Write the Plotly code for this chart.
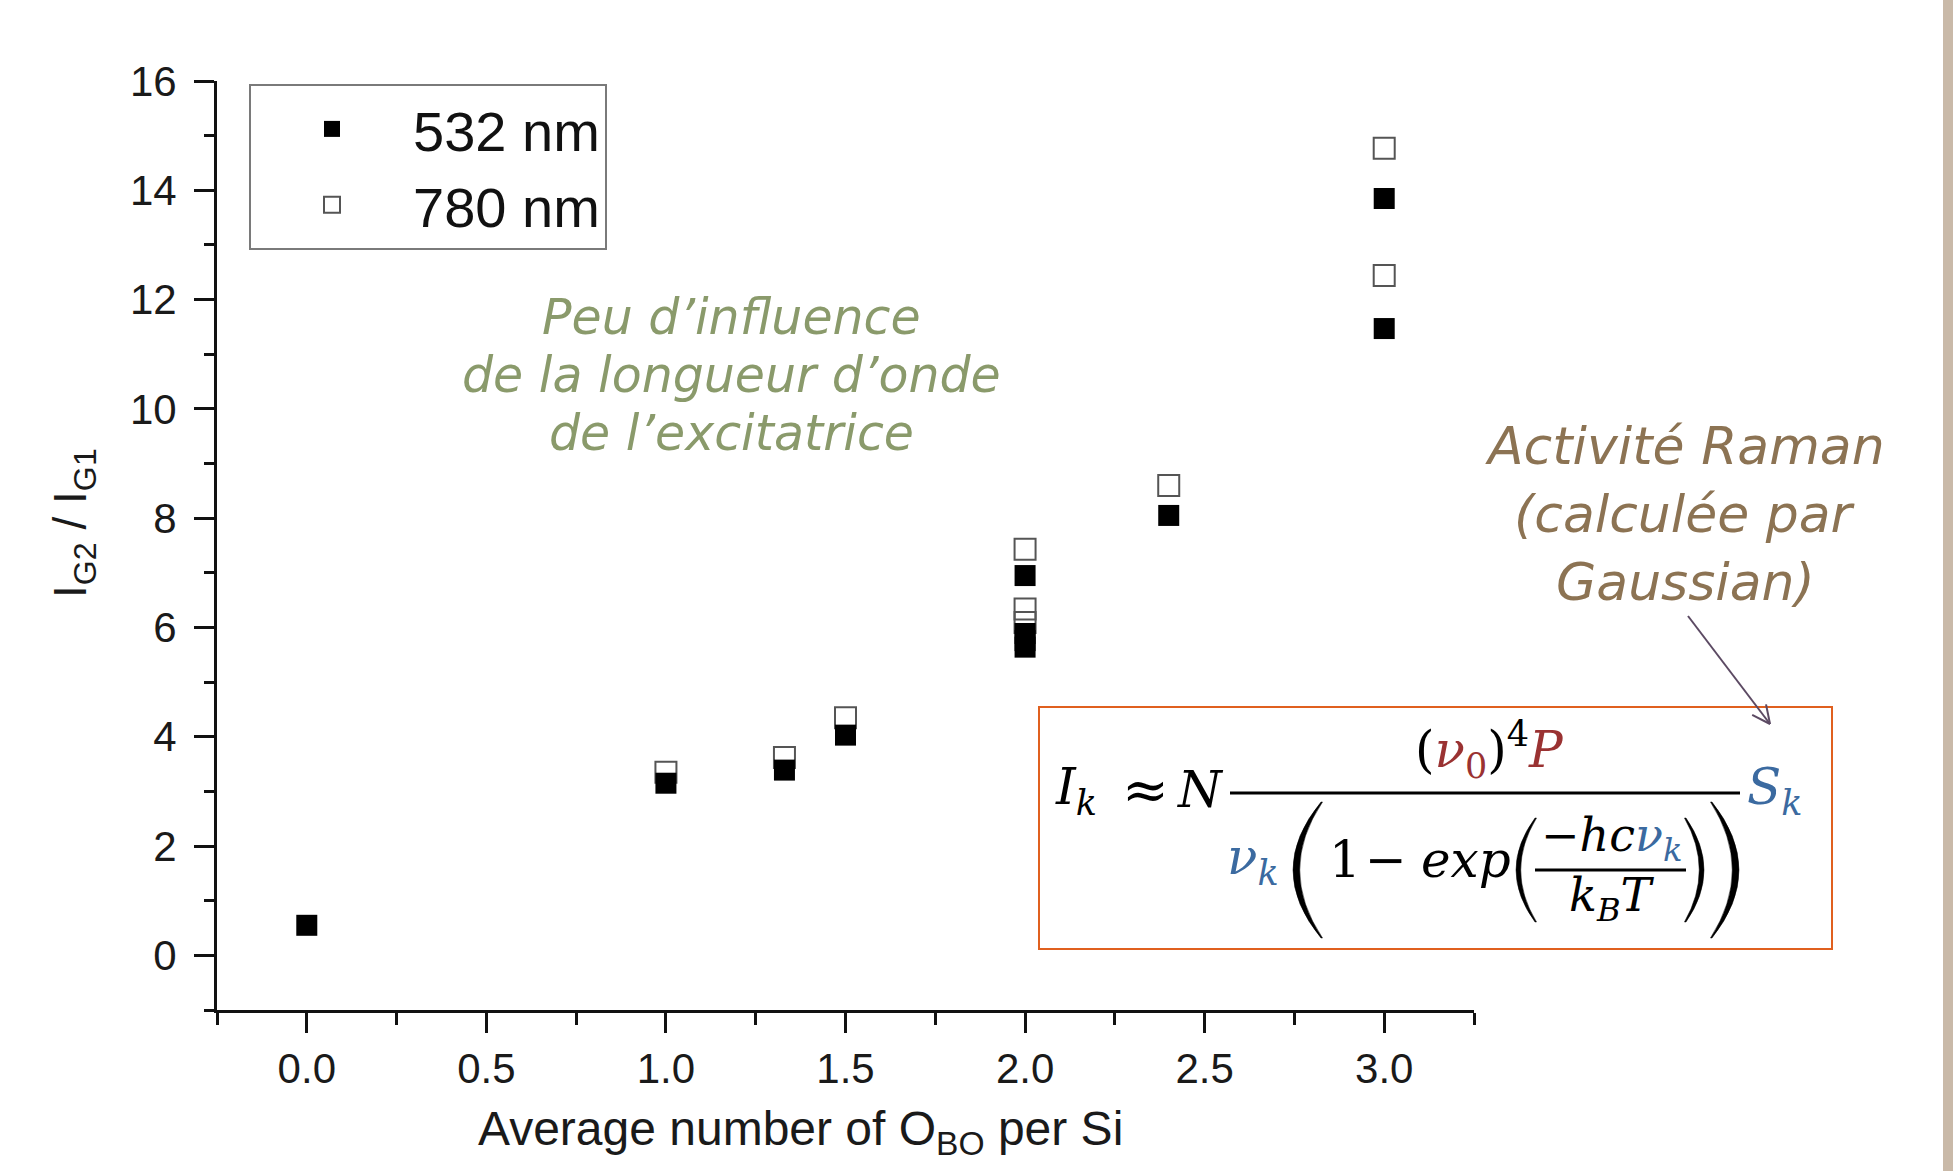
import math
import plotly.graph_objects as go

# ---- data: I_G2 / I_G1 ratio vs. average number of bridging O per Si ----
x_532 = [0.0, 1.0, 1.33, 1.5, 2.0, 2.0, 2.0, 2.0, 2.4, 3.0, 3.0]
y_532 = [0.55, 3.15, 3.39, 4.03, 6.95, 5.89, 5.76, 5.64, 8.05, 13.85, 11.47]

x_780 = [1.0, 1.33, 1.5, 2.0, 2.0, 2.0, 2.4, 3.0, 3.0]
y_780 = [3.35, 3.62, 4.35, 7.43, 6.34, 6.09, 8.60, 14.77, 12.44]

x_ticks = [0.0, 0.5, 1.0, 1.5, 2.0, 2.5, 3.0]
y_ticks = [0, 2, 4, 6, 8, 10, 12, 14, 16]

# ---- page geometry (pixels) ----
W, H = 1953, 1171
ML, MR, MT, MB = 217, 479, 81, 161
PW = W - ML - MR
PH = H - MT - MB


def px(x):
    return (x - ML) / PW


def py(y):
    return 1 - (y - MT) / PH


def pt(x, y):
    return f"{px(x):.5f},{py(y):.5f}"


AXIS_FONT = "Liberation Sans"
MATH_FONT = "DejaVu Serif"
NOTE_FONT = "DejaVu Sans"
BLUE = "#3b6aa0"
RED = "#9a3232"
OLIVE = "#8a9a6b"
BROWN = "#8c7353"

fig = go.Figure()

fig.add_trace(go.Scatter(
    x=x_780, y=y_780, mode="markers", name="780 nm", legendrank=2,
    marker=dict(symbol="square-open", size=21, color="#555555",
                line=dict(width=2, color="#555555")),
))
fig.add_trace(go.Scatter(
    x=x_532, y=y_532, mode="markers", name="532 nm", legendrank=1,
    marker=dict(symbol="square", size=21, color="#000000",
                line=dict(width=0)),
))

axis_common = dict(
    showline=True, linecolor="#111111", linewidth=3, mirror=False,
    showgrid=False, zeroline=False,
    ticks="outside", ticklen=20, tickwidth=3, tickcolor="#111111",
    tickfont=dict(family=AXIS_FONT, size=42, color="#1a1a1a"),
)

fig.update_xaxes(
    range=[-0.25, 3.25], tickvals=x_ticks,
    ticktext=[f"{v:.1f}" for v in x_ticks],
    minor=dict(dtick=0.25, tick0=-0.25, ticks="outside", ticklen=12,
               tickwidth=3, tickcolor="#111111"),
    **axis_common,
)
fig.update_yaxes(
    range=[-1, 16], tickvals=y_ticks, ticklabelstandoff=9,
    minor=dict(dtick=1, tick0=-1, ticks="outside", ticklen=10,
               tickwidth=3, tickcolor="#111111"),
    **axis_common,
)


def note(text, x, y, size, color, family, xanchor="center", yanchor="middle",
         style="normal", angle=0, align="center"):
    fig.add_annotation(
        text=text, x=px(x), y=py(y), xref="paper", yref="paper",
        showarrow=False, xanchor=xanchor, yanchor=yanchor, align=align,
        textangle=angle, borderpad=0,
        font=dict(family=family, size=size, color=color, style=style),
    )


# axis titles
note("Average number of O<sub>BO</sub> per Si", 800, 1132, 48, "#1a1a1a", AXIS_FONT)
note("I<sub>G2</sub> / I<sub>G1</sub>", 73, 523, 46, "#1a1a1a", AXIS_FONT, angle=-90)

# commentary, one annotation per line
for line, yc in zip(["Peu d’influence", "de la longueur d’onde", "de l’excitatrice"],
                    [317, 375, 433]):
    note(line, 731, yc, 49, OLIVE, NOTE_FONT, style="italic")
for line, yc in zip(["Activité Raman", "(calculée par", "Gaussian)"],
                    [446, 514, 582]):
    note(line, 1685, yc, 52, BROWN, NOTE_FONT, style="italic")

shapes = []

# arrow from the comment to S_k
ax0, ay0, ax1, ay1 = 1688, 616, 1770, 724
shapes.append(dict(type="line", xref="paper", yref="paper",
                   x0=px(ax0), y0=py(ay0), x1=px(ax1), y1=py(ay1),
                   line=dict(color="#5c4a63", width=2)))
ang = math.atan2(ay1 - ay0, ax1 - ax0)
for da in (0.45, -0.45):
    hx = ax1 - 20 * math.cos(ang + da)
    hy = ay1 - 20 * math.sin(ang + da)
    shapes.append(dict(type="line", xref="paper", yref="paper",
                       x0=px(hx), y0=py(hy), x1=px(ax1), y1=py(ay1),
                       line=dict(color="#5c4a63", width=2)))

# formula frame
shapes.append(dict(type="rect", xref="paper", yref="paper",
                   x0=px(1039), y0=py(949), x1=px(1832), y1=py(707),
                   line=dict(color="#e0601f", width=2), fillcolor="white",
                   layer="below"))

# right-hand page strip
shapes.append(dict(type="rect", xref="paper", yref="paper",
                   x0=px(1943), y0=py(H), x1=px(W + 5), y1=py(0),
                   line=dict(width=0), fillcolor="#c9b9a8", layer="below"))


def hline(x0, x1, y, width=3):
    shapes.append(dict(type="line", xref="paper", yref="paper",
                       x0=px(x0), y0=py(y), x1=px(x1), y1=py(y),
                       line=dict(color="black", width=width)))


def paren(xl, xr, yt, yb, w, opening):
    ym = (yt + yb) / 2
    if opening:
        path = (f"M{pt(xr, yt)} Q{pt(2 * xl - xr, ym)} {pt(xr, yb)} "
                f"L{pt(xr + 1.5, yb)} Q{pt(2 * (xl + w) - xr, ym)} {pt(xr + 1.5, yt)} Z")
    else:
        path = (f"M{pt(xl, yt)} Q{pt(2 * xr - xl, ym)} {pt(xl, yb)} "
                f"L{pt(xl - 1.5, yb)} Q{pt(2 * (xr - w) - xl, ym)} {pt(xl - 1.5, yt)} Z")
    shapes.append(dict(type="path", xref="paper", yref="paper", path=path,
                       fillcolor="black", line=dict(width=0.5, color="black")))


# I_k ≈ N  (ν0)^4 P / ( ν_k (1 − exp(−hcν_k / k_B T)) )  S_k
F = 50
note("<i>I</i><sub><i>k</i></sub>", 1054, 790, F, "black", MATH_FONT, xanchor="left")
note("≈", 1145, 789, 56, "black", MATH_FONT)
note("<i>N</i>", 1176, 790, F, "black", MATH_FONT, xanchor="left")
hline(1230, 1740, 793)
note(f"(<span style='color:{RED}'><i>ν</i><sub>0</sub></span>)<sup>4</sup>"
     f"<span style='color:{RED}'><i>P</i></span>",
     1489, 750, F, "black", MATH_FONT)
note("<i>ν</i><sub><i>k</i></sub>", 1226, 860, F, BLUE, MATH_FONT, xanchor="left")
paren(1293, 1321, 802, 938, 6, True)
paren(1712, 1739, 802, 938, 6, False)
note("1", 1328, 860, F, "black", MATH_FONT, xanchor="left")
note("−", 1386, 860, F, "black", MATH_FONT)
note("<i>exp</i>", 1420, 860, F, "black", MATH_FONT, xanchor="left")
paren(1516, 1535, 818, 922, 4, True)
paren(1686, 1704, 818, 922, 4, False)
note(f"−<i>hc</i><span style='color:{BLUE}'><i>ν</i><sub><i>k</i></sub></span>",
     1611, 838, 46, "black", MATH_FONT)
hline(1535, 1686, 870)
note("<i>k</i><sub><i>B</i></sub><i>T</i>", 1612, 898, 46, "black", MATH_FONT)
note("<i>S</i><sub><i>k</i></sub>", 1746, 790, F, BLUE, MATH_FONT, xanchor="left")

fig.update_layout(
    width=W, height=H,
    margin=dict(l=ML, r=MR, t=MT, b=MB, pad=0),
    paper_bgcolor="white", plot_bgcolor="white",
    shapes=shapes,
    showlegend=True,
    legend=dict(
        x=px(249), y=py(84), xanchor="left", yanchor="top",
        bordercolor="#7a7a7a", borderwidth=2, bgcolor="white",
        font=dict(family=AXIS_FONT, size=56, color="#111111"),
        itemwidth=152, tracegroupgap=0,
    ),
)

fig.write_html("out.html")
